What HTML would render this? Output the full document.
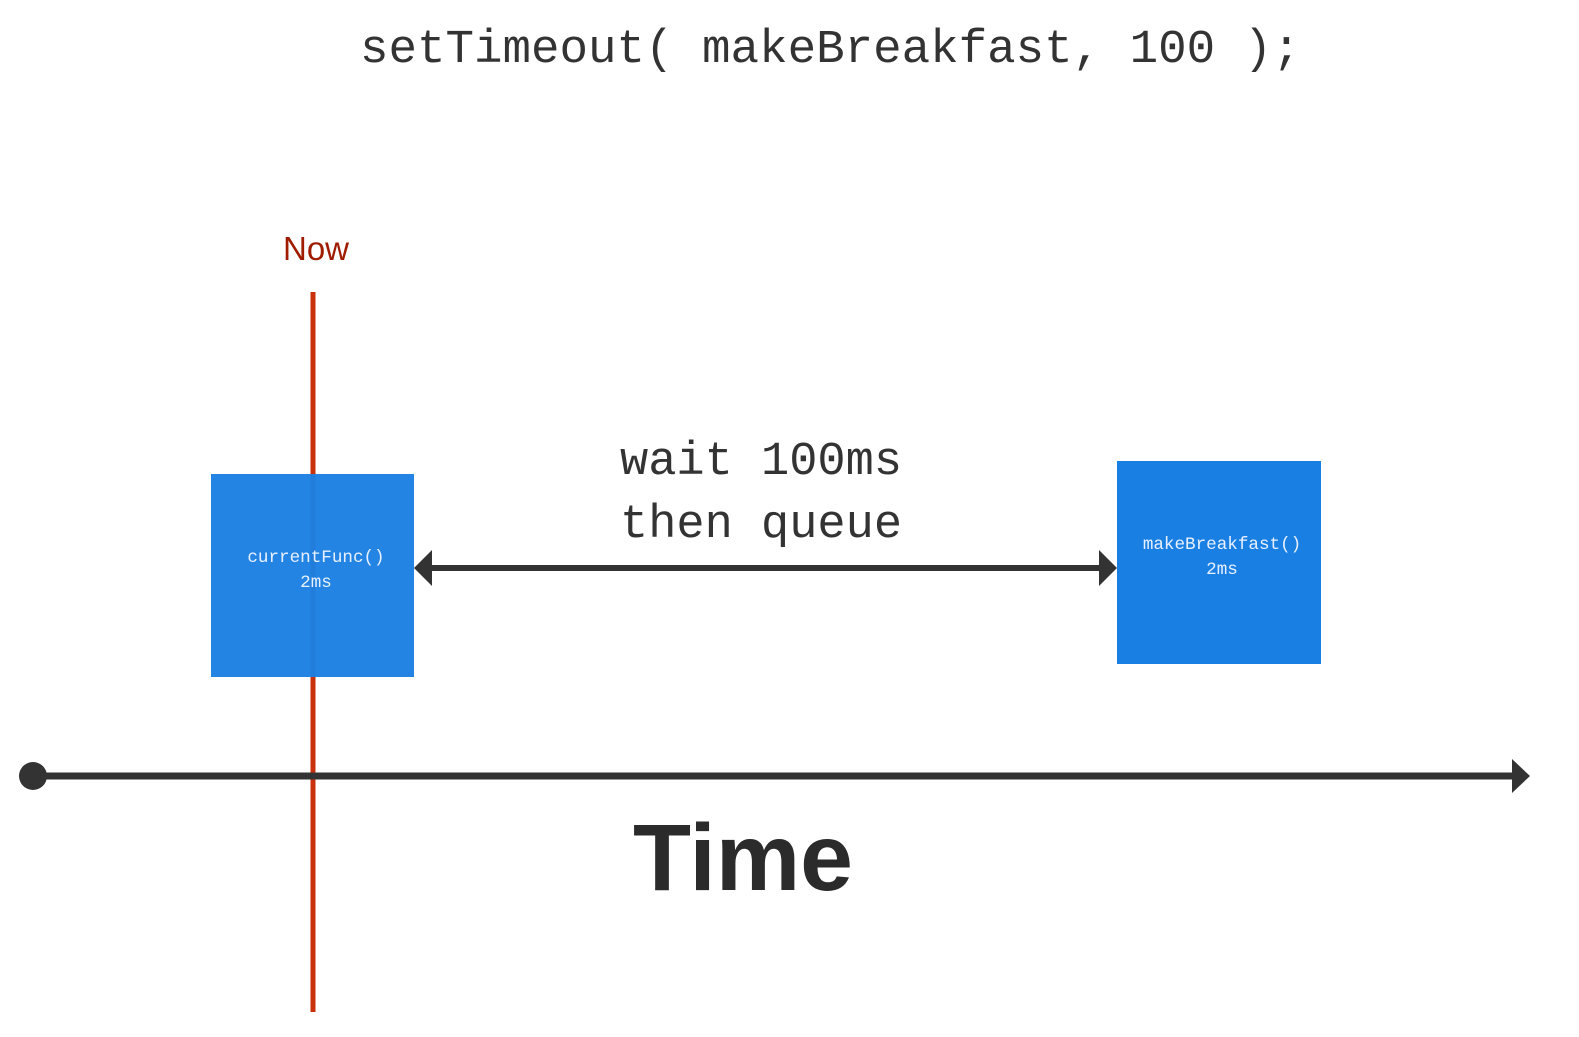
<!DOCTYPE html>
<html><head><meta charset="utf-8"><style>
html,body{margin:0;padding:0;background:#fff;width:1579px;height:1037px;overflow:hidden}
</style></head><body>
<svg width="1579" height="1037" xmlns="http://www.w3.org/2000/svg">
<text x="360" y="62" font-family="Liberation Mono, monospace" font-size="47.5" fill="#333">setTimeout( makeBreakfast, 100 );</text>
<text x="316" y="260" font-family="Liberation Sans, sans-serif" font-size="33" fill="#a01c00" text-anchor="middle">Now</text>
<line x1="313" y1="292" x2="313" y2="1012" stroke="#c8310b" stroke-width="5"/>
<rect x="211" y="474" width="203" height="203" fill="#1a7fe3" fill-opacity="0.96"/>
<text x="316" y="562" font-family="Liberation Mono, monospace" font-size="17.6" fill="#e8f0ff" text-anchor="middle">currentFunc()</text>
<text x="316" y="587" font-family="Liberation Mono, monospace" font-size="17.6" fill="#e8f0ff" text-anchor="middle">2ms</text>
<rect x="1117" y="461" width="204" height="203" fill="#1a7fe3"/>
<text x="1222" y="549" font-family="Liberation Mono, monospace" font-size="17.6" fill="#e8f0ff" text-anchor="middle">makeBreakfast()</text>
<text x="1222" y="574" font-family="Liberation Mono, monospace" font-size="17.6" fill="#e8f0ff" text-anchor="middle">2ms</text>
<text x="620" y="474" font-family="Liberation Mono, monospace" font-size="47" fill="#333">wait 100ms</text>
<text x="620" y="537" font-family="Liberation Mono, monospace" font-size="47" fill="#333">then queue</text>
<line x1="430" y1="568" x2="1100" y2="568" stroke="#333" stroke-width="6"/>
<polygon points="414,568 432,550 432,586" fill="#333"/>
<polygon points="1117,568 1099,550 1099,586" fill="#333"/>
<line x1="33" y1="776" x2="1514" y2="776" stroke="#333" stroke-width="7"/>
<circle cx="33" cy="776" r="14" fill="#333"/>
<polygon points="1530,776 1512,759 1512,793" fill="#333"/>
<text x="633" y="890" font-family="Liberation Sans, sans-serif" font-size="95" font-weight="bold" fill="#2b2b2b">Time</text>
</svg>
</body></html>
